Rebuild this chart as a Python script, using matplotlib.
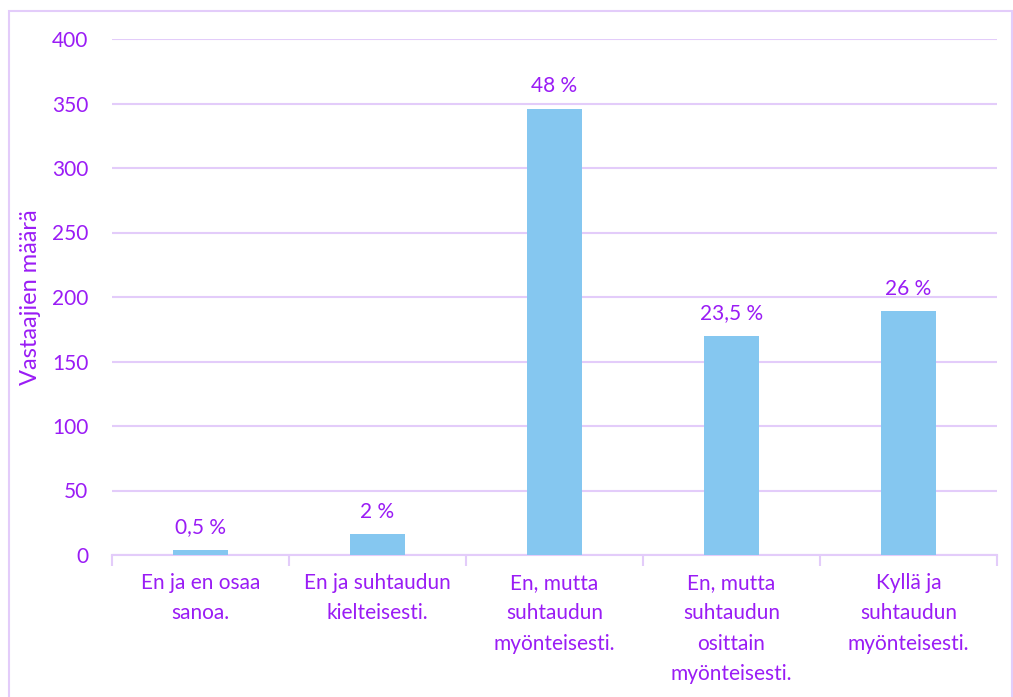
import matplotlib
matplotlib.use("Agg")
import matplotlib.pyplot as plt
from matplotlib.patches import Rectangle

# Data
categories = [
    "En ja en osaa\nsanoa.",
    "En ja suhtaudun\nkielteisesti.",
    "En, mutta\nsuhtaudun\nmyönteisesti.",
    "En, mutta\nsuhtaudun\nosittain\nmyönteisesti.",
    "Kyllä ja\nsuhtaudun\nmyönteisesti.",
]
counts = [4, 16, 346, 170, 189]
pct_labels = ["0,5 %", "2 %", "48 %", "23,5 %", "26 %"]
yticks = [0, 50, 100, 150, 200, 250, 300, 350, 400]

TEXT = "#9A1CF5"
GRID = "#E3CCFA"
BAR = "#85C7F0"

plt.rcParams["font.family"] = ["Lato", "DejaVu Sans"]

W, H = 1013, 697
fig = plt.figure(figsize=(W / 100, H / 100), dpi=100)
ax = fig.add_axes([112 / W, 1 - 555 / H, 885 / W, 516 / H])

x = range(len(categories))
ax.bar(x, counts, width=0.31, color=BAR, zorder=3)
for xi, c, lab in zip(x, counts, pct_labels):
    ax.annotate(lab, (xi, c), xytext=(0, 9), textcoords="offset points",
                ha="center", va="bottom", color=TEXT, fontsize=15)

ax.set_xlim(-0.5, len(categories) - 0.5)
ax.set_ylim(0, 400)
ax.set_yticks(yticks)
ax.set_yticklabels([str(t) for t in yticks], color=TEXT, fontsize=15)
ax.grid(axis="y", color=GRID, linewidth=1.5, zorder=0)

ax.set_xticks([i - 0.5 for i in range(len(categories) + 1)], minor=False)
ax.set_xticklabels([""] * (len(categories) + 1))
ax.set_xticks(list(x), minor=True)
ax.set_xticklabels(categories, minor=True, color=TEXT, fontsize=15,
                   linespacing=1.65, va="top")
ax.tick_params(axis="x", which="major", length=8, color=GRID, width=1.5)
ax.tick_params(axis="x", which="minor", length=0, pad=13)
ax.tick_params(axis="y", length=0, pad=17)

for s in ["top", "right", "left"]:
    ax.spines[s].set_visible(False)
ax.spines["bottom"].set_color(GRID)
ax.spines["bottom"].set_linewidth(1.5)

ax.set_ylabel("Vastaajien määrä", color=TEXT, fontsize=17)
ax.yaxis.set_label_coords(-71 / 885, 0.5)

fig.patches.append(Rectangle((8.5 / W, -0.05), (W - 9.5) / W, 1.05 - 10.5 / H,
                             transform=fig.transFigure, fill=False,
                             edgecolor=GRID, linewidth=1.5))

fig.savefig("out.png", dpi=100)
